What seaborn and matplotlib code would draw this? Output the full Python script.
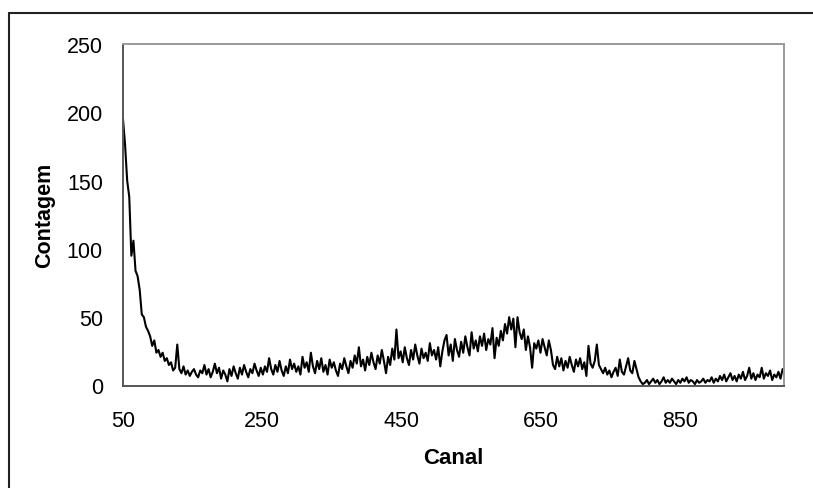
import numpy as np
import pandas as pd
import matplotlib
matplotlib.use("Agg")
import matplotlib.pyplot as plt
from matplotlib.lines import Line2D
import seaborn as sns

# Counts, one value every 3 channels starting at channel 50
counts_050_197 = [195, 176, 150, 138, 95, 106, 84, 80, 70, 52,
                  50, 43, 40, 36, 29, 33, 24, 26, 21, 24,
                  18, 20, 15, 17, 11, 13, 30, 12, 9, 14,
                  8, 11, 7, 10, 12, 8, 6, 11, 9, 15,
                  8, 12, 6, 10, 16, 9, 13, 5, 11, 8]
counts_200_347 = [3, 12, 7, 14, 9, 5, 13, 8, 15, 10,
                  6, 12, 9, 16, 11, 7, 13, 8, 14, 10,
                  20, 12, 8, 15, 10, 18, 11, 7, 14, 9,
                  19, 12, 16, 10, 14, 8, 21, 13, 17, 10,
                  24, 14, 9, 18, 12, 20, 10, 15, 8, 19]
counts_350_497 = [13, 17, 11, 7, 16, 12, 20, 14, 9, 18,
                  13, 22, 16, 28, 14, 19, 11, 21, 15, 24,
                  17, 12, 22, 16, 26, 18, 9, 21, 15, 27,
                  19, 41, 20, 25, 17, 28, 20, 15, 26, 19,
                  30, 22, 16, 27, 20, 24, 18, 31, 22, 26]
counts_500_647 = [19, 28, 14, 25, 33, 37, 22, 30, 18, 34,
                  26, 21, 32, 24, 36, 28, 22, 39, 27, 33,
                  25, 36, 29, 38, 26, 34, 30, 42, 20, 35,
                  29, 40, 33, 45, 38, 50, 41, 49, 28, 50,
                  39, 34, 41, 26, 36, 28, 13, 31, 27, 33]
counts_650_797 = [24, 34, 28, 22, 33, 26, 15, 12, 21, 14,
                  20, 11, 18, 13, 21, 15, 10, 19, 14, 20,
                  12, 17, 7, 29, 16, 13, 18, 30, 15, 12,
                  9, 13, 8, 11, 6, 10, 13, 7, 19, 10,
                  8, 14, 20, 11, 9, 18, 12, 6, 3, 1]
counts_800_998 = [2, 4, 1, 3, 5, 2, 4, 1, 3, 6,
                  2, 4, 2, 5, 3, 1, 4, 2, 5, 3,
                  6, 2, 4, 3, 1, 4, 2, 3, 5, 2,
                  4, 3, 6, 2, 5, 3, 7, 4, 8, 3,
                  6, 9, 4, 7, 3, 8, 5, 10, 4, 7,
                  13, 5, 9, 4, 8, 6, 13, 5, 9, 7,
                  11, 4, 8, 6, 10, 5, 12]

first_channel = 50
channel_step = 3
x_ticks = [50, 250, 450, 650, 850]
y_ticks = [0, 50, 100, 150, 200, 250]
x_label = "Canal"
y_label = "Contagem"

counts = (counts_050_197 + counts_200_347 + counts_350_497 +
          counts_500_647 + counts_650_797 + counts_800_998)
channels = [first_channel + channel_step * i for i in range(len(counts))]
df = pd.DataFrame({"Canal": channels, "Contagem": counts})

sns.set_style("white")
plt.rcParams["font.family"] = ["Liberation Sans", "DejaVu Sans"]

fig = plt.figure(figsize=(8.13, 4.89), dpi=100)
ax = fig.add_axes([123 / 813, (489 - 386.5) / 489, (784 - 123) / 813, (386.5 - 45) / 489])

sns.lineplot(data=df, x="Canal", y="Contagem", color="black", linewidth=1.5, ax=ax)

ax.set_xlim(50, 1000)
ax.set_ylim(0, 250)
ax.set_xticks(x_ticks)
ax.set_yticks(y_ticks)
ax.tick_params(axis="both", which="major", labelsize=15.5, direction="out",
               length=4.5, width=1.2, color="#555555", labelcolor="black")
ax.tick_params(axis="y", pad=10)
ax.tick_params(axis="x", pad=13)
ax.set_xlabel(x_label, fontsize=16, fontweight="bold", labelpad=12, color="black")
ax.set_ylabel(y_label, fontsize=15.5, fontweight="bold", labelpad=8, color="black")

for side in ["left", "bottom"]:
    ax.spines[side].set_color("#555555")
    ax.spines[side].set_linewidth(1.4)
for side in ["top", "right"]:
    ax.spines[side].set_color("#9a9a9a")
    ax.spines[side].set_linewidth(1.4)
    ax.spines[side].set_visible(True)

# outer chart border (left and top edges visible in the reference)
fig.add_artist(Line2D([9 / 813, 9 / 813], [0, 1 - 14 / 489], transform=fig.transFigure,
                      color="#222222", linewidth=1.5))
fig.add_artist(Line2D([9 / 813, 1], [1 - 14 / 489, 1 - 14 / 489], transform=fig.transFigure,
                      color="#222222", linewidth=1.5))

fig.savefig("out.png", dpi=100)
